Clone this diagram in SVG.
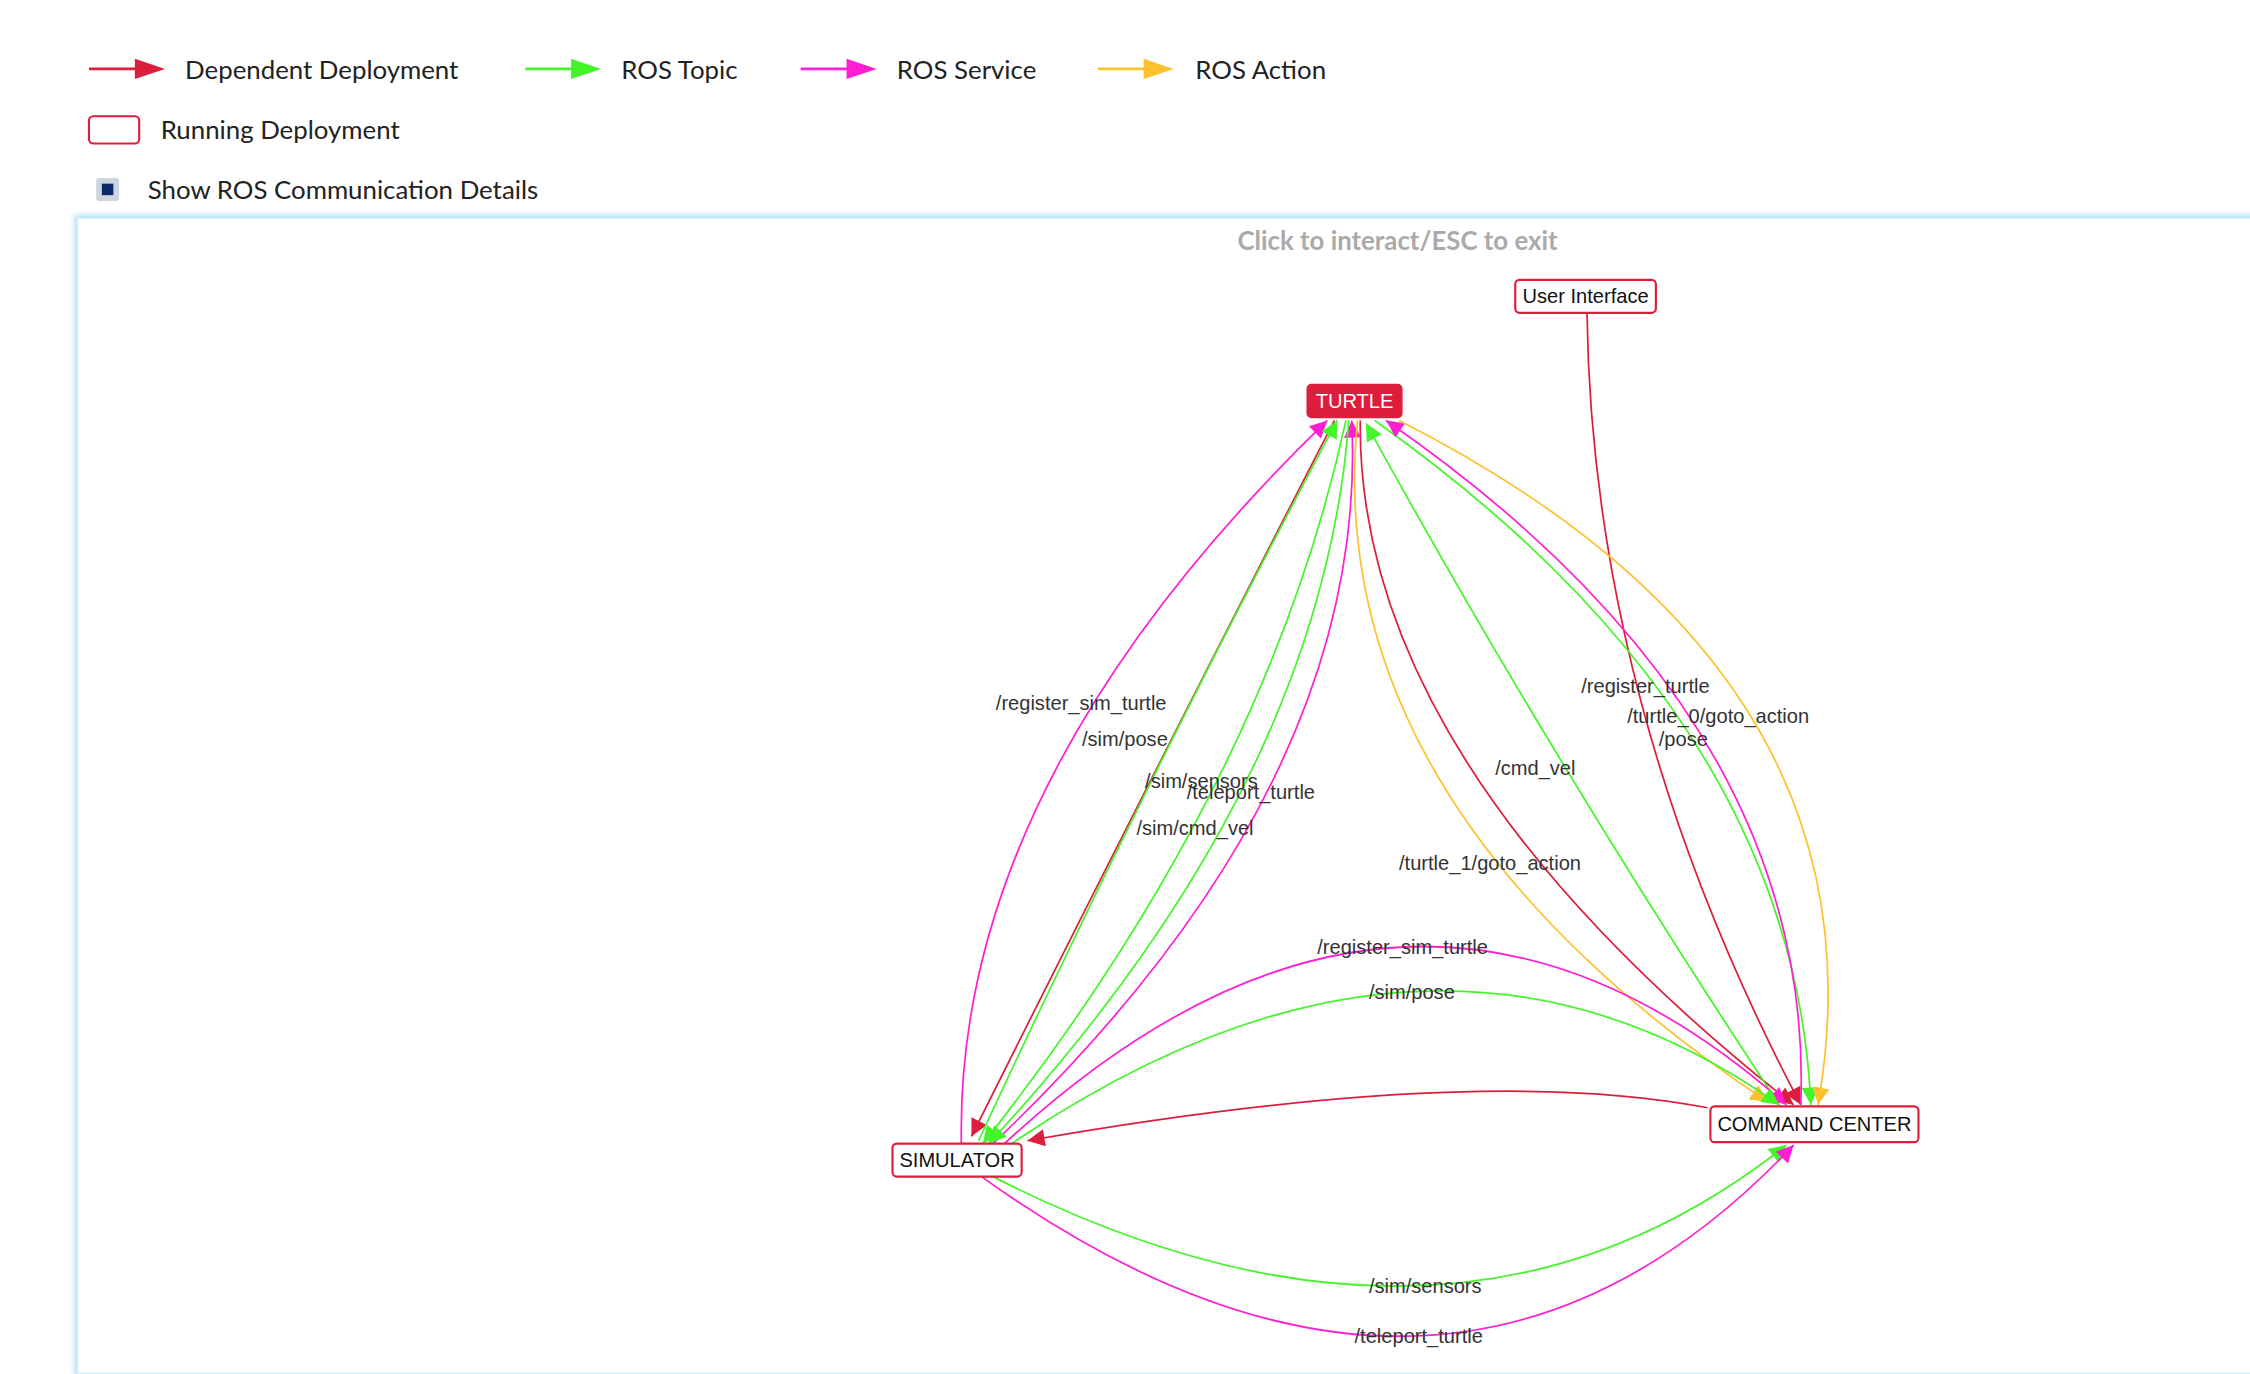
<svg xmlns="http://www.w3.org/2000/svg" width="2250" height="1374" viewBox="0 0 2250 1374">
<defs>
<style>
.leg{font-family:Lato,"Liberation Sans",sans-serif;font-size:18px;fill:#222}
.lbl{font-family:"Liberation Sans",Arial,sans-serif;font-size:14px;fill:#333}
.nt{font-family:"Liberation Sans",Arial,sans-serif;font-size:14px;fill:#111;text-anchor:middle}
.nb{fill:#fff;stroke:#dc1e3c;stroke-width:1.5}
.e{fill:none;stroke-width:1.2}
.r{stroke:#dc1e3c}.g{stroke:#44f52a}.m{stroke:#ff1fd2}.y{stroke:#fdc12e}
</style>
<marker id="ar" viewBox="0 0 10 10" refX="10" refY="5" markerWidth="16" markerHeight="12" markerUnits="userSpaceOnUse" orient="auto"><path d="M0,0L10,5L0,10z" fill="#dc1e3c"/></marker>
<marker id="ag" viewBox="0 0 10 10" refX="10" refY="5" markerWidth="16" markerHeight="12" markerUnits="userSpaceOnUse" orient="auto"><path d="M0,0L10,5L0,10z" fill="#44f52a"/></marker>
<marker id="am" viewBox="0 0 10 10" refX="10" refY="5" markerWidth="16" markerHeight="12" markerUnits="userSpaceOnUse" orient="auto"><path d="M0,0L10,5L0,10z" fill="#ff1fd2"/></marker>
<marker id="ay" viewBox="0 0 10 10" refX="10" refY="5" markerWidth="16" markerHeight="12" markerUnits="userSpaceOnUse" orient="auto"><path d="M0,0L10,5L0,10z" fill="#fdc12e"/></marker>
<filter id="glow" x="-5%" y="-5%" width="110%" height="110%"><feGaussianBlur stdDeviation="2"/></filter>
</defs>
<rect width="2250" height="1374" fill="#fff"/>
<g transform="scale(1.4349)">
<g id="legend">
<line x1="62" y1="48" x2="96" y2="48" stroke="#dc1e3c" stroke-width="2"/><path d="M94,41L115,48L94,55z" fill="#dc1e3c"/>
<text class="leg" x="129" y="55">Dependent Deployment</text>
<line x1="366" y1="48" x2="400" y2="48" stroke="#44f52a" stroke-width="2"/><path d="M398,41L419,48L398,55z" fill="#44f52a"/>
<text class="leg" x="433" y="55">ROS Topic</text>
<line x1="558" y1="48" x2="592" y2="48" stroke="#ff1fd2" stroke-width="2"/><path d="M590,41L611,48L590,55z" fill="#ff1fd2"/>
<text class="leg" x="625" y="55">ROS Service</text>
<line x1="765" y1="48" x2="799" y2="48" stroke="#fdc12e" stroke-width="2"/><path d="M797,41L818,48L797,55z" fill="#fdc12e"/>
<text class="leg" x="833" y="55">ROS Action</text>
<rect x="62" y="81" width="35" height="19" rx="3" fill="#fff" stroke="#dc1e3c" stroke-width="1.5"/>
<text class="leg" x="112" y="97">Running Deployment</text>
<rect x="67" y="124" width="16" height="16" rx="2" fill="#cdd5e0"/><rect x="71" y="128" width="8" height="8" fill="#0c2a66"/>
<text class="leg" x="103" y="139">Show ROS Communication Details</text>
</g>
<rect x="54" y="152" width="1530" height="805" fill="none" stroke="#a8ddf5" stroke-width="4" filter="url(#glow)"/>
<rect x="54" y="152" width="1530" height="805" fill="#fff" stroke="#cdeefc" stroke-width="1"/>
<text x="974" y="174" text-anchor="middle" style="font-family:Lato,'Liberation Sans',sans-serif;font-size:18px;font-weight:bold;fill:#aaa">Click to interact/ESC to exit</text>
<g id="connectors">
<path class="e r" d="M1106,218 Q1109.5,494 1255,770" marker-end="url(#ar)"/>
<path class="e r" d="M930,293 Q803,540 677,792" marker-end="url(#ar)"/>
<path class="e r" d="M1190,772 Q1027,740.5 716,795" marker-end="url(#ar)"/>
<path class="e r" d="M948,293 Q945,530 1250,770" marker-end="url(#ar)"/>
<path class="e m" d="M670,797 Q665,545 925,293" marker-end="url(#am)"/>
<path class="e g" d="M682,795 Q800,540 932,293" marker-end="url(#ag)"/>
<path class="e m" d="M692,797 Q955,547 942,293" marker-end="url(#am)"/>
<path class="e g" d="M938,293 Q883,547 685,797" marker-end="url(#ag)"/>
<path class="e g" d="M940,293 Q921,547 689,797" marker-end="url(#ag)"/>
<path class="e y" d="M946,293 Q920,560 1232,768" marker-end="url(#ay)"/>
<path class="e g" d="M1240,770 Q1080,528 952,295" marker-end="url(#ag)"/>
<path class="e g" d="M958,293 Q1250,500 1262,770" marker-end="url(#ag)"/>
<path class="e m" d="M1255,770 Q1265,500 966,293" marker-end="url(#am)"/>
<path class="e y" d="M975,293 Q1320,468 1267,770" marker-end="url(#ay)"/>
<path class="e m" d="M700,797 Q981.5,536.5 1245,770" marker-end="url(#am)"/>
<path class="e g" d="M705,797 Q997.5,598.5 1240,770" marker-end="url(#ag)"/>
<path class="e g" d="M692,820 Q1011.5,983 1245,798" marker-end="url(#ag)"/>
<path class="e m" d="M684,820 Q1009,1053 1250,798" marker-end="url(#am)"/>
</g>
<g id="edge-labels">
<text class="lbl" x="694" y="495">/register_sim_turtle</text>
<text class="lbl" x="754" y="520">/sim/pose</text>
<text class="lbl" x="798" y="549">/sim/sensors</text>
<text class="lbl" x="827" y="557">/teleport_turtle</text>
<text class="lbl" x="792" y="582">/sim/cmd_vel</text>
<text class="lbl" x="1042" y="540">/cmd_vel</text>
<text class="lbl" x="975" y="606">/turtle_1/goto_action</text>
<text class="lbl" x="1102" y="483">/register_turtle</text>
<text class="lbl" x="1134" y="504">/turtle_0/goto_action</text>
<text class="lbl" x="1156" y="520">/pose</text>
<text class="lbl" x="918" y="665">/register_sim_turtle</text>
<text class="lbl" x="954" y="696">/sim/pose</text>
<text class="lbl" x="954" y="901">/sim/sensors</text>
<text class="lbl" x="944" y="936">/teleport_turtle</text>
</g>
<g id="node-ui"><rect class="nb" x="1056" y="195" width="98" height="23" rx="3"/><text class="nt" x="1105" y="211">User Interface</text></g>
<g id="node-turtle"><rect x="911" y="268" width="66" height="23" rx="3" fill="#dc1e3c" stroke="#dc1e3c"/><text class="nt" x="944" y="284" style="fill:#fff">TURTLE</text></g>
<g id="node-simulator"><rect class="nb" x="622" y="797" width="90" height="23" rx="3"/><text class="nt" x="667" y="813">SIMULATOR</text></g>
<g id="node-cc"><rect class="nb" x="1192" y="771" width="145" height="25" rx="3"/><text class="nt" x="1264.5" y="788">COMMAND CENTER</text></g>
</g>
</svg>
